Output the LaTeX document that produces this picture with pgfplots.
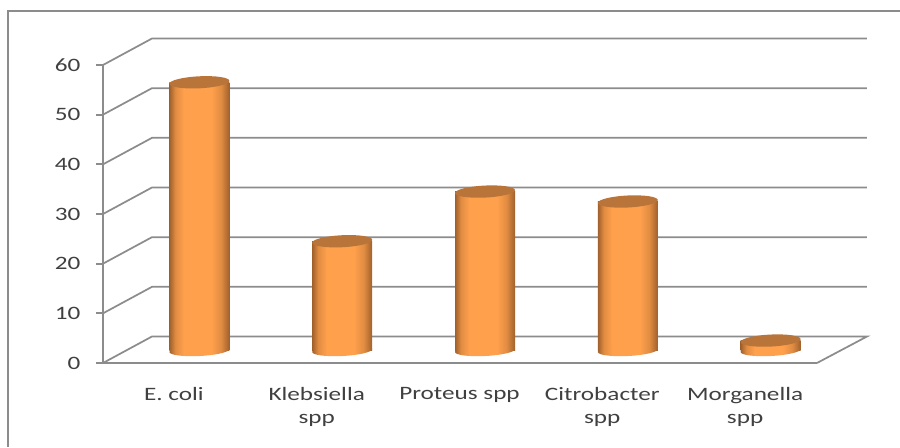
\documentclass[border=0pt]{standalone}
\usepackage{pgfplots}
\pgfplotsset{compat=1.18}
\usepackage{fontspec}
\setmainfont[FakeStretch=1.33]{Carlito}
\definecolor{txt}{HTML}{404040}
\definecolor{gl}{HTML}{8C8C8C}
\definecolor{cd}{HTML}{A0602C}
\definecolor{cm}{HTML}{E08C42}
\definecolor{cb}{HTML}{FFA04C}
\definecolor{ctop}{HTML}{B9743A}
\pgfdeclarehorizontalshading{cyl}{100bp}{color(0bp)=(cd);color(25bp)=(cd);color(30bp)=(cm);color(37bp)=(cb);color(60bp)=(cb);color(68bp)=(cm);color(75bp)=(cd);color(100bp)=(cd)}
\newlength{\px}\setlength{\px}{0.75pt}
\pgfdeclareplotmark{cylbase}{\pgfpathellipse{\pgfpointorigin}{\pgfpoint{30\px}{1.5\px}}{\pgfpoint{-0.3\px}{5.5\px}}\pgfshadepath{cyl}{0}\pgfusepath{discard}}
\pgfdeclareplotmark{cyltop}{\pgfpathellipse{\pgfpointorigin}{\pgfpoint{30\px}{1.5\px}}{\pgfpoint{-0.3\px}{6\px}}\pgfsetfillcolor{ctop}\pgfusepath{fill}}
\pgfplotstableread{
x v zero
0.5 54 0
1.5 22 0
2.5 32 0
3.5 30 0
4.5 2 0
}\data
\begin{document}
\begin{tikzpicture}
\useasboundingbox (-103\px,-84\px) rectangle ++(900\px,447\px);
\begin{axis}[
  anchor=origin, at={(0,0)},
  scale only axis, width=714\px, height=298\px,
  xmin=0,xmax=5,ymin=0,ymax=60,
  clip=false,
  axis lines=left,
  axis line style={-,gl,line width=1.3pt},
  xtick={0.5,1.5,2.5,3.5,4.5},
  xticklabels={{E. coli},{Klebsiella\\spp},{Proteus spp},{Citrobacter\\spp},{Morganella\\spp}},
  major x tick style={draw=none},
  extra x ticks={0,1,2,3,4,5},
  extra x tick labels={},
  extra x tick style={tick style={gl,line width=1.3pt},tick align=outside,major tick length=6\px},
  ytick={0,10,...,60},
  ytick style={gl,line width=1.3pt},
  tick align=outside,
  major tick length=7\px,
  /pgf/number format/assume math mode=true,
  ticklabel style={text=txt,font=\fontsize{14.2pt}{17pt}\selectfont},
  yticklabel style={xshift=-11\px},
  xticklabel style={align=center,anchor=north,yshift=-13\px,xshift=-0.5\px},
]
% frame
\addplot[gl,line width=1.3pt] coordinates {(-0.665,-16.9) (-0.665,70.8) (5.58,70.8)};
% walls
\addplot[gl,line width=1.3pt] coordinates {(5,0) (5.35,5.335) (0.343,5.335) (0,0)};
\addplot[gl,line width=1.3pt] coordinates {(0,10) (0.343,15.335) (5.35,15.335)};
\addplot[gl,line width=1.3pt] coordinates {(0,20) (0.343,25.335) (5.35,25.335)};
\addplot[gl,line width=1.3pt] coordinates {(0,30) (0.343,35.335) (5.35,35.335)};
\addplot[gl,line width=1.3pt] coordinates {(0,40) (0.343,45.335) (5.35,45.335)};
\addplot[gl,line width=1.3pt] coordinates {(0,50) (0.343,55.335) (5.35,55.335)};
\addplot[gl,line width=1.3pt] coordinates {(0,60) (0.343,65.335) (5.35,65.335)};
% cylinders
\pgfplotsset{cylshift/.style={xshift=25\px,yshift=12.5\px},cylbar/.style={ybar,bar width=60\px,shading=cyl,draw=none,cylshift}}
\addplot[only marks,mark=cylbase,cylshift] table[x=x,y=zero] {\data};
\addplot[cylbar] coordinates {(0.5,54)};
\addplot[cylbar] coordinates {(1.5,22)};
\addplot[cylbar] coordinates {(2.5,32)};
\addplot[cylbar] coordinates {(3.5,30)};
\addplot[cylbar] coordinates {(4.5,2)};
\addplot[only marks,mark=cyltop,cylshift] table[x=x,y=v] {\data};
\end{axis}
\end{tikzpicture}
\end{document}
